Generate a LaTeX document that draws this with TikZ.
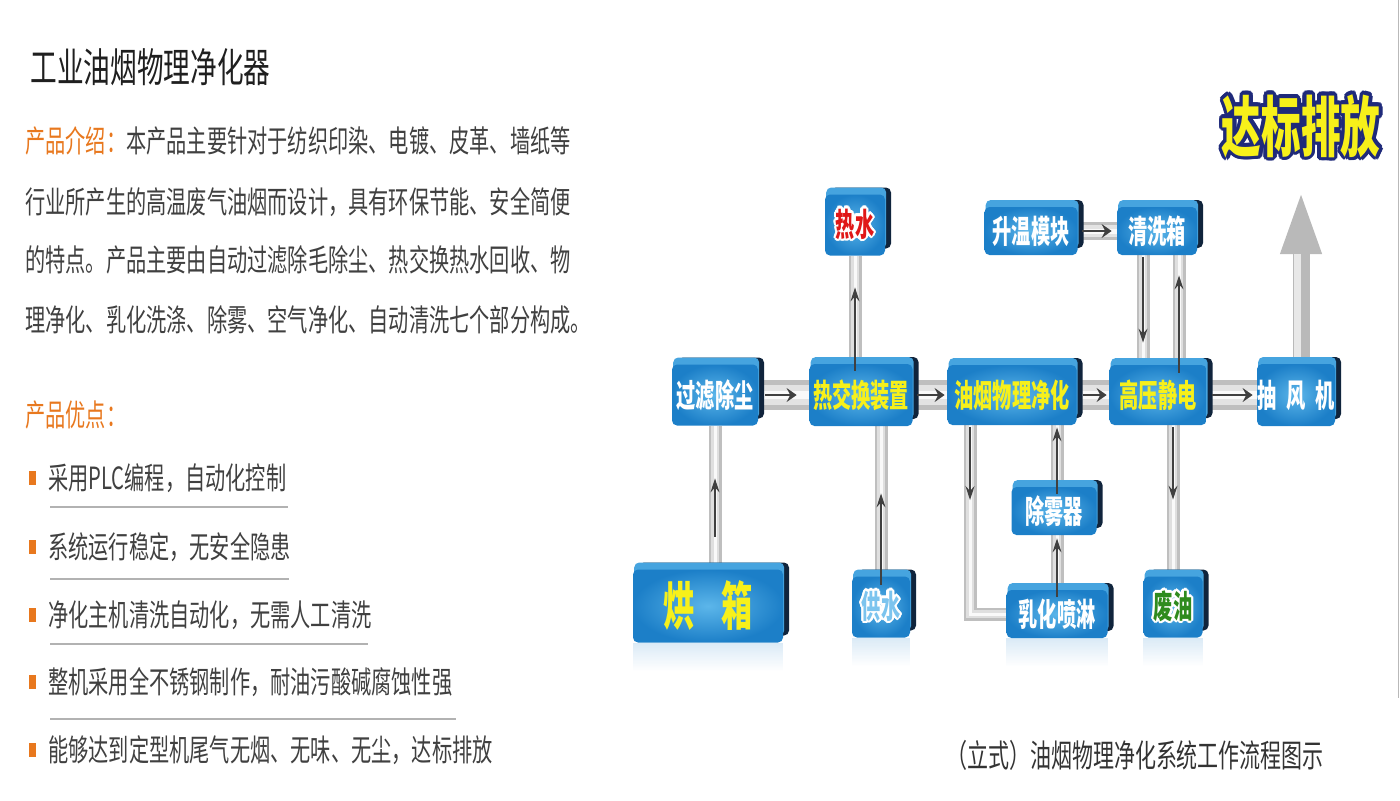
\documentclass[tikz,border=0pt]{standalone}
\usepackage{fontspec}
\usepackage{contour}
\setmainfont{Noto Sans CJK SC}
\newfontfamily\bodyfont[FakeStretch=0.66]{Noto Sans CJK SC}
\newfontfamily\labelfont[FakeStretch=0.6]{Noto Sans CJK SC}
\usetikzlibrary{positioning, arrows.meta, shadows, backgrounds, fadings}
\definecolor{accent}{HTML}{E8781E}
\definecolor{bodygray}{HTML}{404040}
\definecolor{boxblue}{HTML}{1C7FC8}
\definecolor{boxhi}{HTML}{5CB6EA}
\definecolor{boxtop}{HTML}{46A4DF}
\definecolor{boxside}{HTML}{10243C}
\definecolor{lblyellow}{HTML}{F7F01A}
\definecolor{hotred}{HTML}{E01818}
\definecolor{oilgreen}{HTML}{2E8B1E}
\definecolor{waterblue}{HTML}{7CC4EE}
\definecolor{signnavy}{HTML}{1F2A7A}
\contourlength{1.1pt}

\begin{document}
\begin{tikzpicture}[x=0.5pt, y=-0.5pt,
    title/.style={anchor=west, inner sep=0pt, text=black!88, font=\fontsize{20.2pt}{24pt}\bodyfont},
    body/.style={anchor=west, inner sep=0pt, text=bodygray, font=\fontsize{15.3pt}{18pt}\bodyfont},
    dot/.style={fill=accent, inner sep=0pt, minimum width=3.5pt, minimum height=7pt},
    rule/.style={draw=gray!60, line width=1pt},
    unit/.style={rounded corners=2.5pt, inner sep=0pt, minimum height=30.5pt,
                 inner color=boxhi, outer color=boxblue,
                 general shadow={fill=boxside, shadow xshift=3pt, shadow yshift=3.5pt},
                 general shadow={fill=boxtop, shadow xshift=0.6pt, shadow yshift=3.5pt},
                 text=white, font=\fontsize{16pt}{18pt}\labelfont\bfseries},
    flat/.style={unit, minimum height=24pt},
    yellowtext/.style={text=lblyellow},
    reflect/.style={fill=boxblue, opacity=0.16, path fading=south},
    hpipe/.style={draw=gray!50, line width=15pt,
                  postaction={draw=gray!22, line width=10pt},
                  postaction={draw=gray!5, line width=4pt}},
    thinpipe/.style={draw=gray!50, line width=9pt,
                  postaction={draw=gray!22, line width=6pt},
                  postaction={draw=gray!5, line width=2.5pt}},
    vpipe/.style={draw=gray!50, line width=6.5pt,
                  postaction={draw=gray!25, line width=4pt},
                  postaction={draw=gray!5, line width=1.5pt}},
    flow/.style={draw=black!75, line width=0.6pt, -{Stealth[length=5pt, width=7pt, inset=1.8pt]}},
    flowv/.style={draw=black!75, line width=0.6pt, -{Stealth[length=7pt, width=4.5pt, inset=2.5pt]}},
    exhaustarrow/.style={draw=gray!55, line width=8.5pt, -{Triangle[length=33pt, width=18pt]}},
    sheen/.style={draw=gray!18, line width=3.5pt},
    sign/.style={inner sep=0pt, text=lblyellow, font=\fontsize{33pt}{36pt}\labelfont\bfseries},
    caption/.style={inner sep=0pt, text=black!80, font=\fontsize{15.9pt}{18pt}\bodyfont}
  ]
    \useasboundingbox (0,0) rectangle (1400,800);

    \node[title] (head) at (30,67) {工业油烟物理净化器};
    \node[body] (intro1) at (25,141) {{\color{accent}产品介绍：}本产品主要针对于纺织印染、电镀、皮革、墙纸等};
    \node[body] (intro2) at (25,202) {行业所产生的高温废气油烟而设计，具有环保节能、安全简便};
    \node[body] (intro3) at (25,260) {的特点。产品主要由自动过滤除毛除尘、热交换热水回收、物};
    \node[body] (intro4) at (25,320) {理净化、乳化洗涤、除雾、空气净化、自动清洗七个部分构成。};
    \node[body, text=accent] (merit) at (25,415) {产品优点：};

    \foreach \yy/\txt [count=\i] in {478/{采用PLC编程，自动化控制}, 547/{系统运行稳定，无安全隐患},
        615/{净化主机清洗自动化，无需人工清洗}, 682/{整机采用全不锈钢制作，耐油污酸碱腐蚀性强},
        750/{能够达到定型机尾气无烟、无味、无尘，达标排放}} {
      \node[dot] (b\i) at (32,\yy) {};
      \node[body, right=6pt of b\i] (t\i) {\txt};
    }
    \foreach \yy/\xe in {507/288, 579/289, 644/368, 719/456}
      \draw[rule] (50,\yy) -- (\xe,\yy);

    \node[sign] (goal) at (1301,128) {\contourlength{1.8pt}\contour{signnavy}{达标排放}};

    \node[unit, minimum width=43pt] (filt) at (715,395) {过滤除尘};
    \node[unit, yellowtext, minimum width=51.5pt, minimum height=31pt] (hx) at (861,395) {热交换装置};
    \node[unit, yellowtext, minimum width=64.5pt, minimum height=30pt] (oil) at (1012,395) {油烟物理净化};
    \node[unit, yellowtext, minimum width=48.5pt, minimum height=30pt] (hv) at (1158,395) {高压静电};
    \node[unit, minimum width=39pt, minimum height=31pt] (fan) at (1296,395) {抽\hspace{5pt}风\hspace{5pt}机};
    \node[unit, text=hotred, minimum width=30pt] (hot) at (855,225) {\contour{white}{热水}};
    \node[flat, minimum width=46.5pt] (heat) at (1031,231) {升温模块};
    \node[flat, minimum width=40pt] (wash) at (1157,231) {清洗箱};
    \node[flat, minimum width=42.5pt] (mist) at (1054,511) {除雾器};
    \node[flat, minimum width=50.5pt] (emul) at (1057,614) {乳化喷淋};
    \node[unit, text=oilgreen, minimum width=29.5pt] (waste) at (1173,607) {\contour{white}{废油}};
    \node[unit, text=waterblue, minimum width=29pt] (water) at (881,607) {\contour{white}{供水}};
    \node[unit, yellowtext, minimum width=75pt, minimum height=36.5pt,
          font=\fontsize{26pt}{28pt}\labelfont\bfseries] (oven) at (708,606) {烘\hspace{13pt}箱};
    \coordinate (bend) at (970,614);
    \coordinate (exhaust) at (1301,188);

    \foreach \n in {oven, water, emul, waste}
      \fill[reflect] (\n.south west) rectangle ([yshift=-14pt]\n.south east);

    \begin{scope}[on background layer]
      \draw[hpipe] (filt) -- (hx);
      \draw[hpipe] (hx) -- (oil);
      \draw[hpipe] (oil) -- (hv);
      \draw[hpipe] (hv) -- (fan);
      \draw[thinpipe] (heat) -- (wash);
      \draw[vpipe] (oven.north -| filt) -- (filt.south);
      \draw[vpipe] (hx.north -| hot) -- (hot.south);
      \draw[vpipe] (water.north) -- (water.north |- hx.south);
      \draw[vpipe] (oil.south -| bend) -- (bend) -- (emul.west);
      \draw[vpipe] (emul.north) -- (emul.north |- mist.south);
      \draw[vpipe] (mist.north -| emul) -- (emul |- oil.south);
      \draw[vpipe] (waste |- hv.south) -- (waste.north);
      \draw[vpipe] ([xshift=-7pt]wash.south) -- ([xshift=-7pt]wash.south |- hv.north);
      \draw[vpipe] ([xshift=11pt]wash.south) -- ([xshift=11pt]wash.south |- hv.north);
      \draw[exhaustarrow] (fan -| exhaust) -- (exhaust);
      \draw[sheen] ([xshift=-2pt]fan -| exhaust) -- ([xshift=-2pt, yshift=-33pt]exhaust);
    \end{scope}

    \draw[flow, shorten <=3.5pt, shorten >=6.25pt] (filt) -- (hx);
    \draw[flow, shorten <=2.25pt, shorten >=1.25pt] (hx) -- (oil);
    \draw[flow, shorten <=3.25pt, shorten >=1.25pt] (oil) -- (hv);
    \draw[flow, shorten <=2.75pt, shorten >=2pt] (hv) -- (fan);
    \draw[flow, shorten <=2.25pt, shorten >=2.5pt] (heat) -- (wash);
    \draw[flowv, shorten <=16.25pt, shorten >=26.25pt] (oven.north -| filt) -- (filt.south);
    \draw[flowv, shorten <=-3.5pt, shorten >=15.75pt] (hx.north -| hot) -- (hot.south);
    \draw[flowv, shorten <=-4.25pt, shorten >=33.5pt] (water.north) -- (water.north |- hx.south);
    \draw[flowv, shorten <=1pt, shorten >=57pt] (oil.south -| bend) -- (bend);
    \draw[flowv, shorten <=-3.5pt, shorten >=1.5pt] (emul.north) -- (emul.north |- mist.south);
    \draw[flowv, shorten <=-3.5pt, shorten >=1pt] (mist.north -| emul) -- (emul |- oil.south);
    \draw[flowv, shorten <=1pt, shorten >=38.25pt] (waste |- hv.south) -- (waste.north);
    \draw[flowv, shorten <=1pt, shorten >=11pt] ([xshift=-7pt]wash.south) -- ([xshift=-7pt]wash.south |- hv.north);
    \draw[flowv, shorten <=-4pt, shorten >=10pt] ([xshift=11pt]wash.south |- hv.north) -- ([xshift=11pt]wash.south);

    \node[caption] (cap) at (1135,755) {（立式）油烟物理净化系统工作流程图示};
    \draw[gray!55, line width=0.6pt] (1398.5,0) -- (1398.5,698);
  \end{tikzpicture}
\end{document}
